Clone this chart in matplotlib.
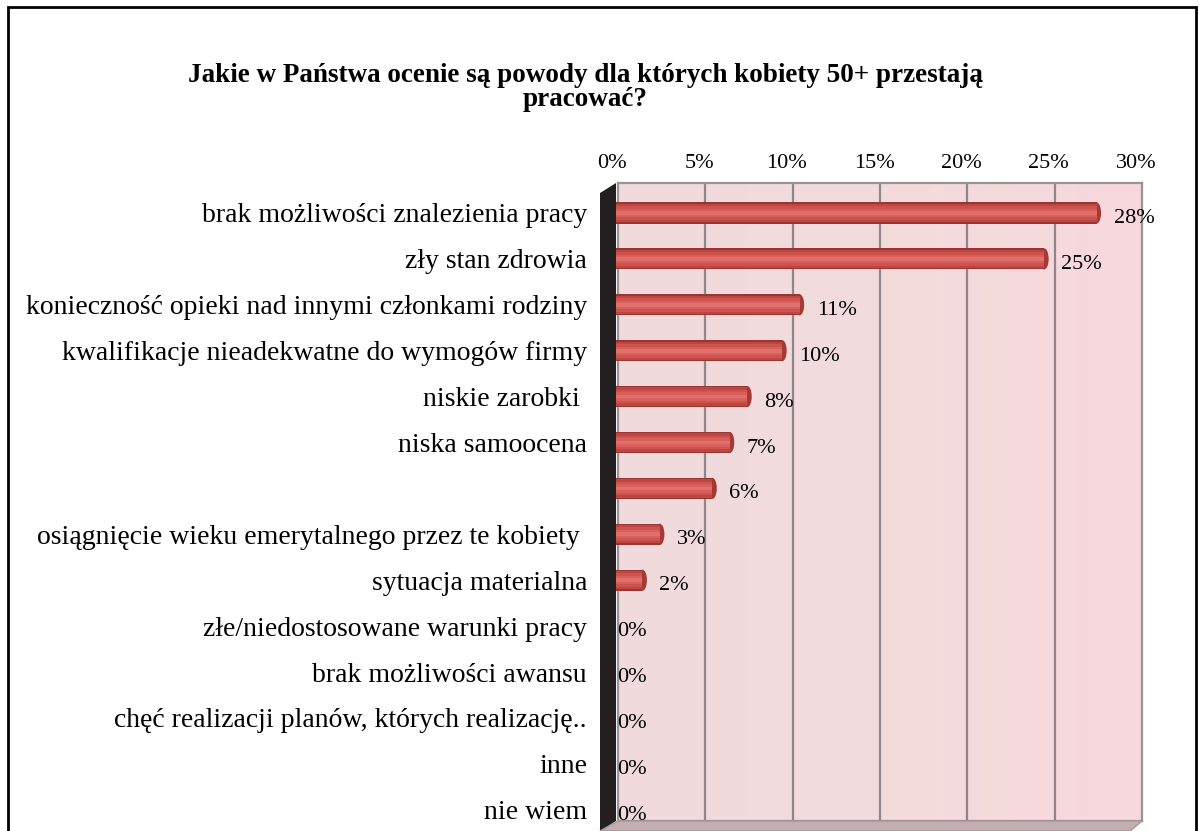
import matplotlib
matplotlib.use("Agg")
import matplotlib.pyplot as plt
import numpy as np
from matplotlib.patches import Polygon, Rectangle, Ellipse
from matplotlib.colors import LinearSegmentedColormap

plt.rcParams['font.family'] = ['Liberation Serif', 'DejaVu Serif']

title_lines = ["Jakie w Państwa ocenie są powody dla których kobiety 50+ przestają",
               "pracować?"]
categories = [
    "brak możliwości znalezienia pracy",
    "zły stan zdrowia",
    "konieczność opieki nad innymi członkami rodziny",
    "kwalifikacje nieadekwatne do wymogów firmy",
    "niskie zarobki ",
    "niska samoocena",
    "",
    "osiągnięcie wieku emerytalnego przez te kobiety ",
    "sytuacja materialna",
    "złe/niedostosowane warunki pracy",
    "brak możliwości awansu",
    "chęć realizacji planów, których realizację..",
    "inne",
    "nie wiem",
]
values = [28, 25, 11, 10, 8, 7, 6, 3, 2, 0, 0, 0, 0, 0]
x_ticks = [0, 5, 10, 15, 20, 25, 30]
x_tick_labels = ["0%", "5%", "10%", "15%", "20%", "25%", "30%"]

W, H = 1199, 831
fig = plt.figure(figsize=(W / 100, H / 100), dpi=100)
fig.patch.set_facecolor("white")


def fbox(x0, y0, x1, y1):
    """Pixel box (top-left origin) -> figure fraction [l, b, w, h]."""
    return [x0 / W, 1 - y1 / H, (x1 - x0) / W, (y1 - y0) / H]


def px(x, y):
    return (x / W, 1 - y / H)


# outer frame
fig.add_artist(Rectangle(px(8, 840), (1196 - 8) / W, (840 - 7) / H,
                         transform=fig.transFigure, fill=False,
                         edgecolor="black", linewidth=2.0, zorder=0))

# title (two centred lines)
fig.text(585 / W, 1 - 76 / H, title_lines[0], ha="center", va="center",
         fontsize=19.5, fontweight="bold")
fig.text(585 / W, 1 - 100 / H, title_lines[1], ha="center", va="center",
         fontsize=19.5, fontweight="bold")

# 3D box geometry (pixels)
front = (606, 193, 1130, 831)   # x0, y_top, x1, y_bottom
depth = (12, -10)
back = (front[0] + depth[0], front[1] + depth[1], front[2] + depth[0], front[3] + depth[1])
mid = (front[0] + depth[0] / 2, front[1] + depth[1] / 2,
       front[2] + depth[0] / 2, front[3] + depth[1] / 2)

n = len(categories)
row0_px, row_step = 213.0, 45.9
ylim_top = -(row0_px - mid[1]) / row_step
ylim_bot = (mid[3] - row0_px) / row_step

# back wall with gridlines
axb = fig.add_axes(fbox(*back))
grad = np.linspace(0, 1, 256)[None, :]
wall_cmap = LinearSegmentedColormap.from_list("wall", ["#F1DADB", "#F3DCDD", "#F8D8DC"])
axb.imshow(grad, aspect="auto", cmap=wall_cmap, extent=(0, 30, ylim_bot, ylim_top), zorder=0)
axb.set_xlim(0, 30)
axb.set_ylim(ylim_bot, ylim_top)
for t in x_ticks[1:-1]:
    axb.axvline(t, color="#8E8688", linewidth=1.6, zorder=1)
for s in axb.spines.values():
    s.set_color("#9A9294")
    s.set_linewidth(1.6)
axb.set_xticks([])
axb.set_yticks([])

# left side wall and floor
left_wall = Polygon([px(front[0] - 6, front[1]), px(back[0] - 2, back[1]),
                     px(back[0] - 2, back[3]), px(front[0] - 6, front[3])],
                    closed=True, transform=fig.transFigure,
                    facecolor="#231E20", edgecolor="none", zorder=1)
fig.add_artist(left_wall)
floor = Polygon([px(front[0] - 6, front[3]), px(back[0], back[3]),
                 px(back[2], back[3]), px(front[2], front[3])],
                closed=True, transform=fig.transFigure,
                facecolor="#C3AFB1", edgecolor="#A89496", linewidth=1, zorder=1)
fig.add_artist(floor)

# bars on the middle plane
ax = fig.add_axes(fbox(*mid))
ax.set_facecolor("none")
ax.set_xlim(0, 30)
ax.set_ylim(ylim_bot, ylim_top)
ypos = np.arange(n)
vals = np.array(values, dtype=float)
start = -0.6  # bars emerge from the side wall

# cylinder shading: stacked bands from dark rim to light core
layers = [(0.46, "#9E3431"), (0.40, "#BC4642"), (0.30, "#CC534E"),
          (0.18, "#D85F5A"), (0.08, "#E0706B")]
cap_w = 9 / ((mid[2] - mid[0]) / 30)
for h, c in layers:
    widths = np.where(vals > 0, vals - start - cap_w / 2, 0)
    ax.barh(ypos, widths, height=h, left=start, color=c, edgecolor="none", zorder=3)
# rounded end caps
for y, v in zip(ypos, vals):
    if v > 0:
        ax.add_patch(Ellipse((v - cap_w / 2, y), cap_w, 0.46, facecolor="#A53935",
                             edgecolor="none", zorder=2.9))

# value labels
for y, v in zip(ypos, values):
    ax.annotate(f"{v}%", xy=(v, y), xytext=(9 if v > 0 else 4, -4),
                textcoords="offset points", ha="left", va="center",
                fontsize=16, zorder=5)

ax.set_yticks(ypos)
ax.set_yticklabels(categories, fontsize=20)
ax.tick_params(axis="y", length=0, pad=18)
ax.xaxis.tick_top()
ax.set_xticks(x_ticks)
ax.set_xticklabels(x_tick_labels, fontsize=16)
ax.tick_params(axis="x", length=0, pad=11)
for s in ax.spines.values():
    s.set_visible(False)

fig.savefig("out.png", dpi=100)
